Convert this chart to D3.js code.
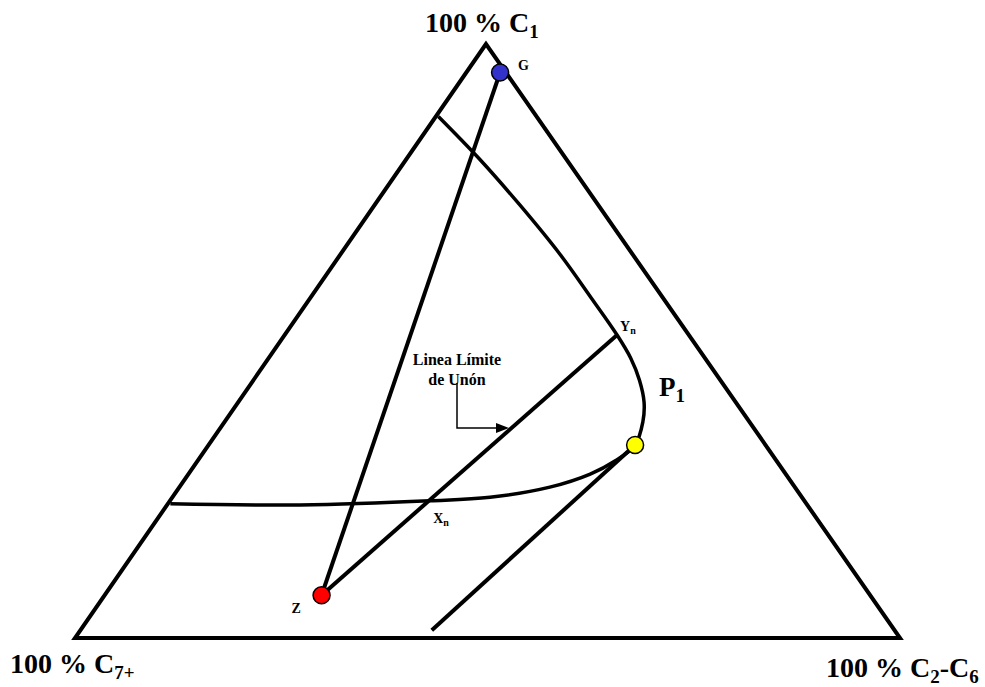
<!DOCTYPE html>
<html>
<head>
<meta charset="utf-8">
<script src="https://cdn.jsdelivr.net/npm/d3@7"></script>
<style>
  html, body { margin: 0; padding: 0; background: #fff; }
  svg { display: block; }
  text { font-family: "Liberation Serif", "Times New Roman", serif; font-weight: bold; fill: #000; }
</style>
</head>
<body>
<svg id="chart" width="985" height="687"></svg>
<script>
// Compositions are given as [% C1, % C2-C6]; % C7+ is the remainder.
const vertexLabels = [
  { parts: [["100 % C", 0], ["1", 1]], corner: "top" },
  { parts: [["100 % C", 0], ["7+", 1]], corner: "left" },
  { parts: [["100 % C", 0], ["2", 1], ["-C", 0], ["6", 1]], corner: "right" }
];

// Two-phase envelope, from the C7+ side round the plait point to the C1 side
const envelopeC1   = [22.6, 22.4, 23.1, 23.7, 25.4, 27.6, 29.8, 32.5, 36.4, 39.7, 43.4, 47.1, 51.0, 57.2, 64.6, 72.9, 80.6, 87.8];
const envelopeC2C6 = [0.3, 16.1, 31.5, 38.5, 44.9, 48.7, 50.6, 51.7, 50.7, 49.2, 46.8, 43.9, 40.3, 34.1, 26.6, 17.6, 8.9, 0.3];

// Named compositions
const pointNames = ["G", "Z", "P1", "Yn", "Xn"];
const pointC1    = [95.2, 7.2, 32.5, 51.0, 23.0];
const pointC2C6  = [4.1, 26.3, 51.7, 40.3, 31.6];
const pointFill  = { G: "#3333cc", Z: "#ff0000", P1: "#ffff00" };

// Tie line from the plait point down towards the C2-C6 base
const tangentC1   = [32.5, 1.3];
const tangentC2C6 = [51.7, 42.6];

const svg = d3.select("#chart");

// Triangle geometry
const T = { x: 486, y: 44 }, L = { x: 75, y: 638 }, R = { x: 900, y: 638 };
const yScale = d3.scaleLinear().domain([0, 100]).range([L.y, T.y]);
const baseScale = d3.scaleLinear().domain([0, 100]).range([L.x, R.x]);
const shiftScale = d3.scaleLinear().domain([0, 100]).range([0, T.x - L.x]);
const project = (c1, c2) => [baseScale(c2) + shiftScale(c1), yScale(c1)];

const pt = {};
pointNames.forEach((n, i) => { pt[n] = project(pointC1[i], pointC2C6[i]); });

// Triangle frame
svg.append("path")
  .attr("d", d3.line()([project(100, 0), project(0, 0), project(0, 100)]) + "Z")
  .attr("fill", "none").attr("stroke", "#000").attr("stroke-width", 4)
  .attr("stroke-linejoin", "miter");

// G – Z line
svg.append("path")
  .attr("d", d3.line()([pt.G, pt.Z]))
  .attr("stroke", "#000").attr("stroke-width", 4).attr("fill", "none");

// Z – Yn tie line
svg.append("path")
  .attr("d", d3.line()([pt.Z, pt.Yn]))
  .attr("stroke", "#000").attr("stroke-width", 4).attr("fill", "none");

// Tangent line below the plait point
svg.append("path")
  .attr("d", d3.line()(tangentC1.map((c, i) => project(c, tangentC2C6[i]))))
  .attr("stroke", "#000").attr("stroke-width", 4).attr("fill", "none");

// Envelope curve
svg.append("path")
  .attr("d", d3.line().curve(d3.curveCatmullRom.alpha(0.5))(envelopeC1.map((c, i) => project(c, envelopeC2C6[i]))))
  .attr("stroke", "#000").attr("stroke-width", 3.5).attr("fill", "none");

// Arrow pointing at the tie line
const arrowPts = [[457, 383], [457, 428], [497, 428]];
svg.append("path")
  .attr("d", d3.line()(arrowPts))
  .attr("stroke", "#000").attr("stroke-width", 1.5).attr("fill", "none");
svg.append("path")
  .attr("d", "M496,423 L509,428 L496,433 Z")
  .attr("fill", "#000");

// Markers
["G", "Z", "P1"].forEach(n => {
  svg.append("circle")
    .attr("cx", pt[n][0]).attr("cy", pt[n][1]).attr("r", 8.5)
    .attr("fill", pointFill[n]).attr("stroke", "#000").attr("stroke-width", 1.5);
});

// Text with subscripts
function subText(x, y, parts, size, subSize, anchor) {
  const t = svg.append("text").attr("x", x).attr("y", y)
    .attr("font-size", size).attr("text-anchor", anchor || "start");
  let shifted = false;
  parts.forEach(([s, sub]) => {
    const ts = t.append("tspan").text(s);
    if (sub && !shifted) { ts.attr("dy", size * 0.22).attr("font-size", subSize); shifted = true; }
    else if (!sub && shifted) { ts.attr("dy", -size * 0.22); shifted = false; }
    else if (sub) ts.attr("font-size", subSize);
  });
  return t;
}

subText(425, 32, vertexLabels[0].parts, 28, 19);
subText(10, 673, vertexLabels[1].parts, 28, 19);
subText(826, 677, vertexLabels[2].parts, 28, 19);

// Point labels
svg.append("text").attr("x", pt.G[0] + 18).attr("y", pt.G[1] - 3).attr("font-size", 14).text("G");
svg.append("text").attr("x", pt.Z[0] - 30).attr("y", pt.Z[1] + 18).attr("font-size", 14).text("Z");
subText(pt.Yn[0] + 3, pt.Yn[1] - 4, [["Y", 0], ["n", 1]], 14, 10);
subText(pt.Xn[0] + 3, pt.Xn[1] + 22, [["X", 0], ["n", 1]], 14, 10);
subText(659, 396, [["P", 0], ["1", 1]], 27, 19);

svg.append("text").attr("x", 457).attr("y", 365).attr("font-size", 16)
  .attr("text-anchor", "middle").text("Linea Límite");
svg.append("text").attr("x", 457).attr("y", 385).attr("font-size", 16)
  .attr("text-anchor", "middle").text("de Unón");
</script>
</body>
</html>
